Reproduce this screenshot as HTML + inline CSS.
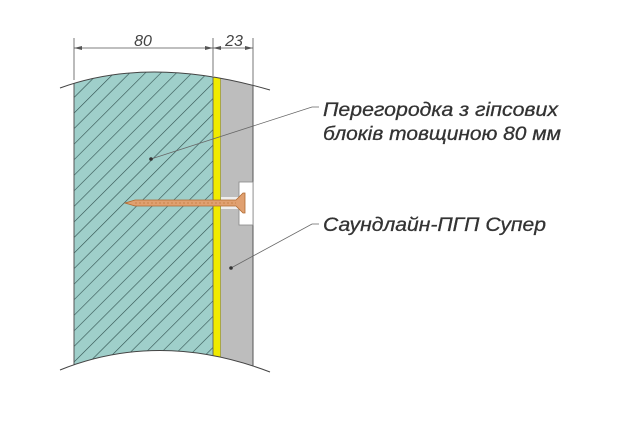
<!DOCTYPE html>
<html><head><meta charset="utf-8"><style>html,body{margin:0;padding:0;background:#fff}svg{display:block}</style></head>
<body>
<svg width="620" height="438" viewBox="0 0 620 438" xmlns="http://www.w3.org/2000/svg">
<defs>
<pattern id="h" patternUnits="userSpaceOnUse" width="11" height="11" patternTransform="rotate(45)">
<rect width="11" height="11" fill="#9fcfca"/>
<line x1="0" y1="0" x2="0" y2="11" stroke="#2f4f4d" stroke-width="1.2"/>
</pattern>
<clipPath id="c"><path d="M60,88 Q150,55 270,90 L270,372 Q160,330 60,370 Z"/></clipPath>
</defs>
<g clip-path="url(#c)">
<rect x="74" y="50" width="139" height="330" fill="url(#h)"/>
<rect x="213" y="50" width="8" height="330" fill="#f0ea00"/>
<rect x="221" y="50" width="32" height="330" fill="#bdbdbd"/>
<line x1="213" y1="50" x2="213" y2="380" stroke="#555" stroke-width="0.8"/>
<line x1="220.5" y1="50" x2="220.5" y2="380" stroke="#777" stroke-width="0.6"/>
<line x1="74" y1="50" x2="74" y2="380" stroke="#555" stroke-width="1"/>
<line x1="253" y1="50" x2="253" y2="380" stroke="#555" stroke-width="1"/>
</g>
<path d="M60,88 Q150,55 270,90" fill="none" stroke="#444" stroke-width="1"/>
<path d="M60,370 Q160,330 270,372" fill="none" stroke="#444" stroke-width="1"/>
<!-- washer -->
<rect x="239" y="182" width="14" height="43" fill="#fff" stroke="#888" stroke-width="0.8"/>
<rect x="221" y="197" width="20" height="12" fill="#eee"/>
<!-- screw -->
<path d="M125,203 L135,200 L236,200 L243,193 L245,193 L245,213 L243,213 L236,206 L135,206 Z" fill="#e0a070" stroke="#b06a30" stroke-width="0.8"/>
<line x1="135" y1="203" x2="236" y2="203" stroke="#c9834a" stroke-width="1" stroke-dasharray="2,2"/>
<!-- dimensions -->
<g stroke="#555" stroke-width="0.8">
<line x1="74" y1="38" x2="74" y2="80"/>
<line x1="213" y1="38" x2="213" y2="76"/>
<line x1="253" y1="38" x2="253" y2="86"/>
<line x1="74" y1="48" x2="253" y2="48"/>
</g>
<g fill="#555">
<path d="M74,48 l8,-2 v4 z"/><path d="M213,48 l-8,-2 v4 z"/>
<path d="M213,48 l8,-2 v4 z"/><path d="M253,48 l-8,-2 v4 z"/>
</g>
<g font-family="Liberation Sans, sans-serif" font-style="italic" fill="#444" font-size="16">
<text x="143" y="46" text-anchor="middle">80</text>
<text x="234" y="46" text-anchor="middle">23</text>
</g>
<!-- leaders -->
<g stroke="#666" stroke-width="0.8" fill="none">
<polyline points="151,159 312,107 319,107"/>
<polyline points="231,268 312,224 319,224"/>
</g>
<circle cx="151" cy="159" r="1.8" fill="#333"/>
<circle cx="231" cy="268" r="1.8" fill="#333"/>
<g font-family="Liberation Sans, sans-serif" font-style="italic" fill="#333" font-size="19" stroke="#333" stroke-width="0.3">
<text x="323" y="116" textLength="235" lengthAdjust="spacingAndGlyphs">Перегородка з гіпсових</text>
<text x="323" y="140" textLength="238" lengthAdjust="spacingAndGlyphs">блоків товщиною 80 мм</text>
<text x="323" y="231" textLength="223" lengthAdjust="spacingAndGlyphs">Саундлайн-ПГП Супер</text>
</g>
</svg>
</body></html>
